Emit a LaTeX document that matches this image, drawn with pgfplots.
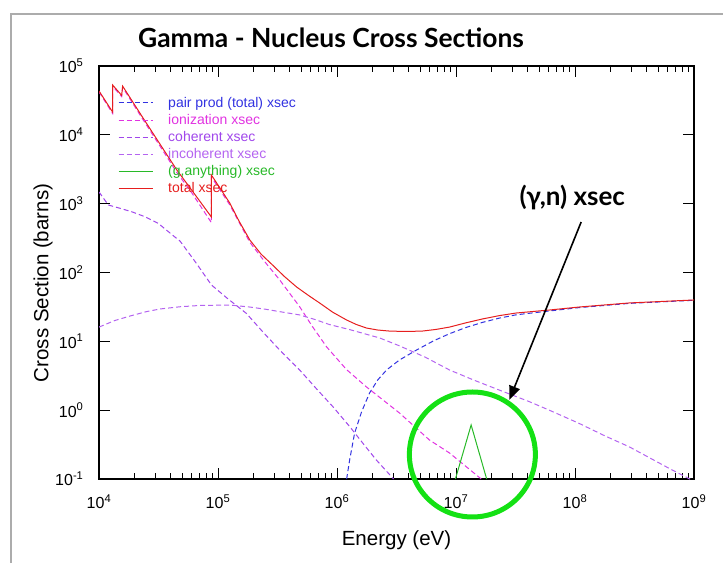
\documentclass[border=0pt]{standalone}
\usepackage{fontspec}
\setmainfont{Liberation Sans}
\newfontfamily\titlefont{Lato}
\usepackage{pgfplots}
\usepackage{pgfplotstable}
\pgfplotsset{compat=1.18}
\usetikzlibrary{arrows.meta}

\definecolor{pairblue}{RGB}{50,50,225}
\definecolor{ionmag}{RGB}{225,50,225}
\definecolor{cohviolet}{RGB}{160,70,235}
\definecolor{incviolet}{RGB}{180,100,240}
\definecolor{gdrgreen}{RGB}{40,185,40}
\definecolor{totred}{RGB}{230,30,30}
\definecolor{ringgreen}{RGB}{20,225,20}

% photon energy (eV) vs cross section (barns), lead target
\pgfplotstableread{
E sigma
1.205e6 0.1
1.277e6 0.189
1.406e6 0.465
1.607e6 0.94
1.875e6 1.77
2.2e6 2.75
2.61e6 3.84
3.35e6 5.36
4.66e6 7.48
6.5e6 10.2
8.81e6 12.9
1.2e7 15.8
1.66e7 18.8
2.3e7 21.7
3.21e7 24.3
6.08e7 27.6
1.08e8 30.9
2.85e8 35.6
1e9 39.5
}\pairprod

\pgfplotstableread{
E sigma
1e4 4.2e4
1.30e4 2.05e4
1.30e4 5.1e4
1.55e4 3.6e4
1.58e4 4.9e4
2.3e4 1.75e4
3.36e4 6.3e3
4.5e4 2.85e3
6.0e4 1.45e3
8.8e4 530
8.8e4 2.45e3
1.256e5 960
1.85e5 275
2.5e5 140
3.30e5 78
4.85e5 31.9
6.2e5 16.5
8.19e5 8.28
1.2e6 3.9
1.76e6 2.19
3.35e6 0.91
5.98e6 0.369
8.81e6 0.239
1.63e7 0.1
}\ionization

\pgfplotstableread{
E sigma
1e4 1480
1.197e4 957
1.50e4 857
1.88e4 764
2.43e4 647
3.14e4 519
4.34e4 328
4.79e4 287
6.5e4 140
8.8e4 66
1.2e5 42
1.73e5 25.5
2.4e5 13.5
3.30e5 7.48
4.85e5 3.84
6.8e5 2.0
9.25e5 1.12
1.28e6 0.576
1.7e6 0.31
2.14e6 0.189
2.99e6 0.1
}\coherent

\pgfplotstableread{
E sigma
1e4 16.1
1.35e4 20
1.82e4 23.3
2.5e4 27
3.25e4 29.5
4.8e4 31.8
7.03e4 33.2
1.256e5 33.7
1.85e5 31.5
2.5e5 29.3
3.30e5 27
4.85e5 24.2
6.5e5 20.8
8.67e5 17.5
1.28e6 14.8
2.28e6 11.2
3.35e6 8.6
5.5e6 5.9
8.81e6 3.84
1.4e7 2.75
2.31e7 1.96
4.13e7 1.33
6.08e7 1.0
1.08e8 0.644
1.8e8 0.42
2.85e8 0.294
6.17e8 0.143
1e9 0.093
}\incoherent

\pgfplotstableread{
E sigma
9.89e6 0.1
1.34e7 0.61
1.81e7 0.1
}\ganything

\pgfplotstableread{
E sigma
1e4 4.34e4
1.30e4 2.15e4
1.30e4 5.3e4
1.55e4 3.75e4
1.58e4 5.1e4
2.3e4 1.85e4
3.36e4 6.73e3
4.5e4 3.1e3
6.0e4 1.58e3
8.8e4 640
8.8e4 2.61e3
1.256e5 1.02e3
1.5e5 560
1.85e5 297
2.3e5 185
2.88e5 128
3.6e5 88
4.58e5 61.5
5.8e5 46
7.14e5 36.1
9.2e5 26.5
1.205e6 20.4
1.45e6 17.6
1.77e6 15.6
2.2e6 14.6
2.76e6 14.1
3.8e6 13.9
5.22e6 14.1
6.8e6 14.9
8.81e6 16.1
1.2e7 18.5
1.66e7 21.1
2.3e7 23.6
3.21e7 25.8
6.08e7 28.5
1.08e8 31.5
2.85e8 36.1
1e9 39.9
}\total

\newcommand{\tp}[1]{10\textsuperscript{#1}}

\begin{document}
\begin{tikzpicture}[x=1pt,y=1pt]
\useasboundingbox (0,0) rectangle (723,563);
% slide frame
\draw[gray!65, line width=1.5pt] (11,0) -- (11,549) -- (723,549);
\node[font=\titlefont\bfseries\fontsize{26.4}{31}\selectfont] at (331,525) {Gamma - Nucleus Cross Sections};

\begin{axis}[
  at={(99pt,84pt)}, anchor=south west,
  scale only axis, width=595pt, height=413pt,
  xmode=log, ymode=log,
  xmin=1e4, xmax=1e9, ymin=0.1, ymax=1e5,
  xtick={1e4,1e5,1e6,1e7,1e8,1e9},
  xticklabels={\tp{4},\tp{5},\tp{6},\tp{7},\tp{8},\tp{9}},
  ytick={0.1,1,10,100,1000,1e4,1e5},
  yticklabels={\tp{-1},\tp{0},\tp{1},\tp{2},\tp{3},\tp{4},\tp{5}},
  yminorticks=false,
  tick label style={font=\fontsize{16}{19}\selectfont},
  xticklabel style={yshift=-12pt},
  yticklabel style={xshift=-12pt},
  major tick length=11pt, minor tick length=6pt,
  tick style={black, line width=0.8pt},
  axis line style={line width=1.6pt},
  xlabel={Energy (eV)}, ylabel={Cross Section (barns)},
  label style={font=\fontsize{20.5}{24}\selectfont},
  xlabel style={anchor=center, at={(axis description cs:0.5,-0.1477)}},
  ylabel style={anchor=center, at={(axis description cs:-0.094,0.4746)}},
  every axis plot/.append style={line width=1pt},
  legend image code/.code={\draw[#1] (0pt,0pt) -- (34pt,0pt);},
  legend style={draw=none, fill=none, at={(axis description cs:0.032,0.925)}, anchor=north west,
    font=\fontsize{14}{17}\selectfont, inner sep=0pt, row sep=5.4pt,
    nodes={inner sep=0pt},
    /tikz/every odd column/.append style={column sep=15pt}},
  legend cell align=left,
]
\addplot[pairblue, dash pattern=on 5pt off 3pt] table[x=E,y=sigma] {\pairprod};
\addlegendentry{\textcolor{pairblue}{pair prod (total) xsec}}
\addplot[ionmag, dash pattern=on 5pt off 3pt] table[x=E,y=sigma] {\ionization};
\addlegendentry{\textcolor{ionmag}{ionization xsec}}
\addplot[cohviolet, dash pattern=on 5pt off 3pt] table[x=E,y=sigma] {\coherent};
\addlegendentry{\textcolor{cohviolet}{coherent xsec}}
\addplot[incviolet, dash pattern=on 5pt off 3pt] table[x=E,y=sigma] {\incoherent};
\addlegendentry{\textcolor{incviolet}{incoherent xsec}}
\addplot[gdrgreen] table[x=E,y=sigma] {\ganything};
\addlegendentry{\textcolor{gdrgreen}{(g,anything) xsec}}
\addplot[totred] table[x=E,y=sigma] {\total};
\addlegendentry{\textcolor{totred}{total xsec}}

\coordinate (ring) at (axis cs:1.373e7,0.227);
\coordinate (tail) at (axis cs:1.127e8,542);
\coordinate (tip) at (axis cs:2.805e7,1.406);
\coordinate (note) at (axis cs:9.5e7,1211);
\end{axis}

% annotation of the photonuclear peak
\draw[ringgreen, line width=5pt] (ring) ellipse [x radius=63pt, y radius=62.5pt];
\draw[black, line width=1.6pt, -{Triangle[length=14pt,width=11pt]}] (tail) -- (tip);
\node[font=\titlefont\bfseries\fontsize{26}{31}\selectfont] at (note) {(γ,n) xsec};
\end{tikzpicture}
\end{document}
